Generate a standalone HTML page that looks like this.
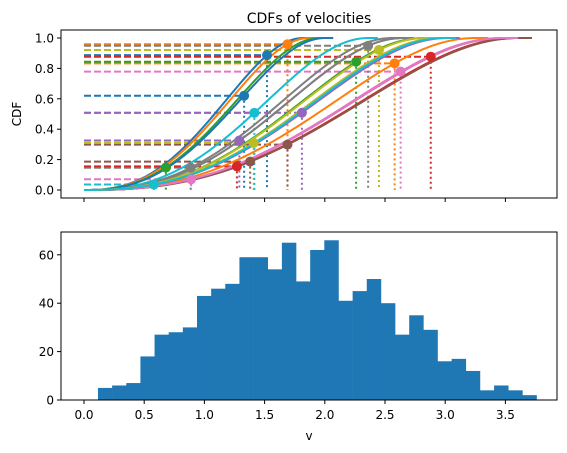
<!DOCTYPE html>
<html><head><meta charset="utf-8">
<style>
html,body{margin:0;padding:0;background:#fff;}
svg{display:block;font-family:"DejaVu Sans","Liberation Sans",sans-serif;}
</style></head>
<body>
<svg id="chart" width="567" height="453" viewBox="0 0 567 453" xmlns="http://www.w3.org/2000/svg">
  <rect x="0" y="0" width="567" height="453" fill="#fff"/>
  <text x="309" y="23" font-size="14" text-anchor="middle">CDFs of velocities</text>
  <g id="topAxes"></g>
  <g id="botAxes"></g>
</svg>
<script>
// ---- CDF series data ----
const seriesColors = ["#1f77b4","#ff7f0e","#2ca02c","#d62728","#9467bd","#8c564b","#e377c2","#7f7f7f","#bcbd22","#17becf",
                      "#1f77b4","#ff7f0e","#2ca02c","#d62728","#9467bd","#8c564b","#e377c2","#7f7f7f","#bcbd22","#17becf"];
const seriesEnd = [1.83,1.88,1.97,3.50,2.66,3.62,3.48,2.57,2.97,2.37, 2.01,3.26,2.83,3.60,3.03,3.62,3.50,2.66,2.85,3.00];
const pointV    = [1.52,1.69,0.68,2.88,1.29,1.69,2.63,0.886,1.41,1.415, 1.33,2.58,2.26,1.27,1.81,1.38,0.89,2.36,2.45,0.58];
const shapeA = 2.5;
const shapeB = 2.2;
// ---- histogram data ----
const binStart = 0.116;
const binWidth = 0.1175;
const binCounts = [5,6,7,18,27,28,30,43,46,48,59,59,54,65,49,62,66,41,45,50,40,27,35,29,16,17,12,4,6,4,2];
const xTicks = [0,0.5,1,1.5,2,2.5,3,3.5];
const xTickLabels = ["0.0","0.5","1.0","1.5","2.0","2.5","3.0","3.5"];
const cdfTicks = [0,0.2,0.4,0.6,0.8,1.0];
const cdfTickLabels = ["0.0","0.2","0.4","0.6","0.8","1.0"];
const countTicks = [0,20,40,60];
const countTickLabels = ["0","20","40","60"];

const NS="http://www.w3.org/2000/svg";
function mk(tag, attrs, parent){const e=document.createElementNS(NS,tag);for(const k in attrs)e.setAttribute(k,attrs[k]);parent.appendChild(e);return e;}
const L=61,R=557;
function X(v){return 84+v*120.4;}
function Ycdf(c){return 190-c*152;}
function Ycnt(n){return 400-n*2.42;}
function cdf(i,x){const t=Math.max(0,Math.min(1,x/seriesEnd[i]));return 1-Math.pow(1-Math.pow(t,shapeA),shapeB);}

const gTop=document.getElementById('topAxes'), gBot=document.getElementById('botAxes');
const defs=mk('defs',{},document.getElementById('chart'));
const cp=mk('clipPath',{id:'ctop'},defs); mk('rect',{x:L,y:30,width:R-L,height:168},cp);
const plot=mk('g',{'clip-path':'url(#ctop)'},gTop);

for(let i=0;i<seriesEnd.length;i++){
  const v=pointV[i], c=cdf(i,v);
  const h=mk('line',{x1:X(0),y1:Ycdf(c),x2:X(v),y2:Ycdf(c),stroke:seriesColors[i],'stroke-width':2,'stroke-dasharray':'7,3'},plot);
  
  
  const vl=mk('line',{x1:X(v),y1:Ycdf(c),x2:X(v),y2:Ycdf(0),stroke:seriesColors[i],'stroke-width':2,'stroke-dasharray':'2,3'},plot);
  
  
}
for(let i=0;i<seriesEnd.length;i++){
  let d='';const n=80;const xe=Math.min(seriesEnd[i]*1.03,3.72);
  for(let k=0;k<=n;k++){const x=xe*k/n;d+=(k?'L':'M')+X(x).toFixed(2)+','+Ycdf(cdf(i,x)).toFixed(2);}
  const p=mk('path',{d:d,fill:'none',stroke:seriesColors[i],'stroke-width':2},plot);
  
  
}
for(let i=0;i<seriesEnd.length;i++){
  const v=pointV[i];
  const c=mk('circle',{cx:X(v),cy:Ycdf(cdf(i,v)),r:5,fill:seriesColors[i]},plot);
  
  
}
mk('rect',{x:L,y:30,width:R-L,height:168,fill:'none',stroke:'#000','stroke-width':1},gTop);
xTicks.forEach(t=>{mk('line',{x1:X(t),y1:198,x2:X(t),y2:202,stroke:'#000'},gTop);});
cdfTicks.forEach((t,i)=>{
  mk('line',{x1:L-4,y1:Ycdf(t),x2:L,y2:Ycdf(t),stroke:'#000'},gTop);
  const tx=mk('text',{x:L-7,y:Ycdf(t)+4.5,'font-size':12,'text-anchor':'end'},gTop);
  tx.textContent=cdfTickLabels[i];
  
  
});
const yl=mk('text',{x:21,y:114,'font-size':12,'text-anchor':'middle',transform:'rotate(-90 21 114)'},gTop);
yl.textContent='CDF';



binCounts.forEach((n,i)=>{
  const x0=X(binStart+i*binWidth), x1=X(binStart+(i+1)*binWidth);
  const r=mk('rect',{x:x0,y:Ycnt(n),width:x1-x0+0.3,height:Ycnt(0)-Ycnt(n),fill:'#1f77b4'},gBot);
  
  
});
mk('rect',{x:L,y:232,width:R-L,height:168,fill:'none',stroke:'#000','stroke-width':1},gBot);
xTicks.forEach((t,i)=>{
  mk('line',{x1:X(t),y1:400,x2:X(t),y2:404,stroke:'#000'},gBot);
  const tx=mk('text',{x:X(t),y:419,'font-size':12,'text-anchor':'middle'},gBot);
  tx.textContent=xTickLabels[i];
  
  
});
countTicks.forEach((t,i)=>{
  mk('line',{x1:L-4,y1:Ycnt(t),x2:L,y2:Ycnt(t),stroke:'#000'},gBot);
  const tx=mk('text',{x:L-7,y:Ycnt(t)+4.5,'font-size':12,'text-anchor':'end'},gBot);
  tx.textContent=countTickLabels[i];
  
  
});
const xl=mk('text',{x:309,y:440,'font-size':12,'text-anchor':'middle'},gBot);
xl.textContent='v';


</script>
</body></html>
